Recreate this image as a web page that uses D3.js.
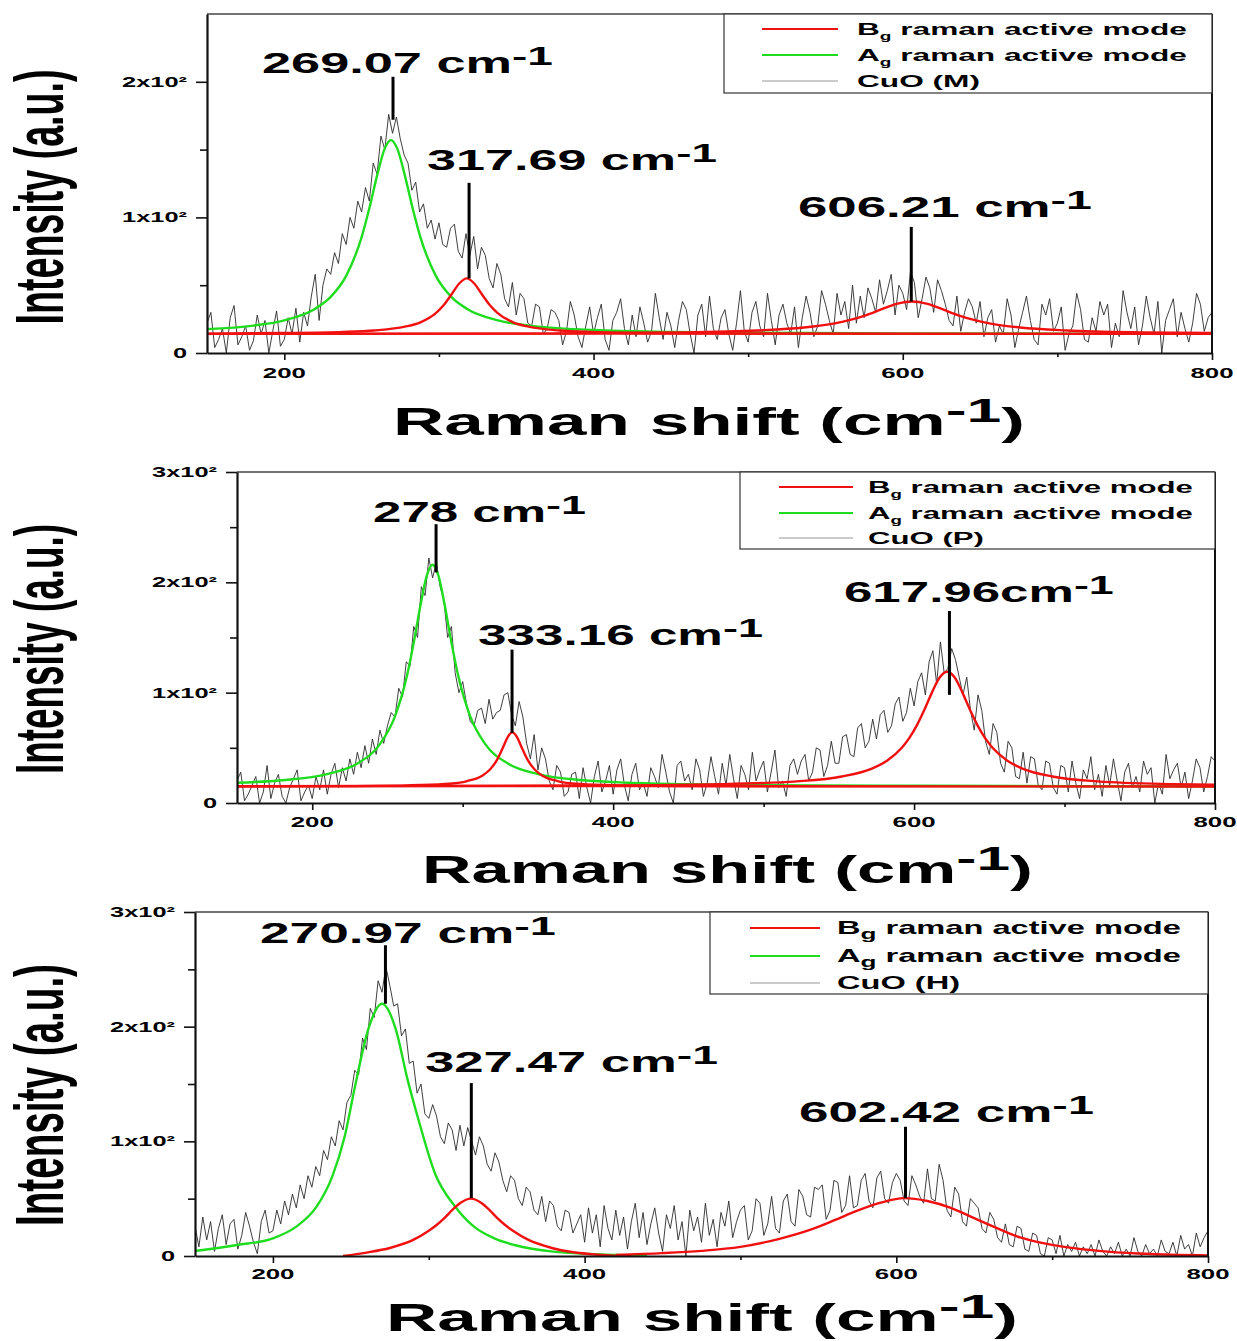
<!DOCTYPE html>
<html><head><meta charset="utf-8">
<script src="https://cdn.jsdelivr.net/npm/d3@7"></script>
<style>
html,body{margin:0;padding:0;background:#fff;}
svg{display:block;background:#fff;}
text{font-family:"Liberation Sans",Arial,Helvetica,sans-serif;font-weight:bold;fill:#000;}
</style></head><body>
<svg id="chart" width="1237" height="1341"></svg>
<script>
// ---------------- DATA ----------------
const X_START = 150, X_STEP = 2.5;           // sampling grid of the spectra (cm-1)
const xTickValues = [200, 400, 600, 800];
const xTickLabels = ["200", "400", "600", "800"];
const xMinorValues = [300, 500, 700];
const yTickValues3 = [0, 100, 200, 300];
const yTickLabels3 = ["0", "1x10²", "2x10²", "3x10²"];
const yMinor3 = [50, 150, 250];
const yTickValuesM = [0, 100, 200];
const yTickLabelsM = ["0", "1x10²", "2x10²"];
const yMinorM = [50, 150];
const legendModes = [
  { main: "B", sub: "g", rest: " raman active mode" },
  { main: "A", sub: "g", rest: " raman active mode" }
];
const sampleNames = ["CuO (M)", "CuO (P)", "CuO (H)"];

// measured spectra (intensity, a.u.)
const spectrumM = [
22,30,4,10,18,0,26,35,6,12,
20,2,9,28,14,24,0,16,31,5,
10,26,14,33,8,30,20,42,58,24,
50,62,58,74,66,88,80,100,92,112,
104,122,112,140,132,160,150,176,162,174,
158,146,140,120,126,104,110,92,98,84,
96,80,78,92,95,75,70,88,72,86,
62,78,72,55,48,66,58,40,34,52,
28,44,40,22,20,36,34,14,18,32,
30,24,6,16,38,28,12,4,20,34,
14,26,36,10,2,24,30,40,18,6,
28,12,34,22,8,16,44,26,10,30,
20,4,24,38,32,14,0,28,36,12,
42,18,10,26,32,14,2,22,46,16,
8,30,38,20,12,44,24,6,28,36,
22,14,34,4,26,42,30,12,20,46,
36,24,14,44,28,38,18,50,22,42,
26,48,40,30,54,36,46,58,28,50,
44,32,60,52,26,40,56,48,30,54,
46,36,24,20,42,16,30,40,34,22,
38,12,26,32,8,20,14,40,28,4,
18,30,42,24,10,6,36,28,40,16,
22,34,2,14,20,44,32,10,8,26,
16,38,28,36,4,22,12,46,30,18,
34,6,20,42,26,14,38,0,24,32,
40,12,30,18,8,22,44,36,16,26,
30];
const spectrumP = [
20,28,2,8,16,24,0,10,34,4,
18,26,6,0,14,22,30,2,10,16,
4,24,12,30,8,26,36,14,32,20,
40,26,46,32,52,36,58,44,66,54,
70,82,78,104,96,128,124,160,150,196,
188,222,204,218,196,184,150,160,118,100,
110,90,74,70,84,86,72,94,76,82,
84,98,100,80,70,92,78,54,40,62,
30,50,40,20,12,34,28,6,10,26,
28,4,32,14,0,24,38,10,20,34,
8,30,40,16,2,26,36,12,18,6,
32,24,14,44,28,10,0,34,38,20,
26,12,40,30,6,18,42,24,8,36,
16,44,22,4,34,26,12,46,20,30,
38,10,28,48,14,20,6,34,40,26,
38,44,20,28,50,48,24,34,56,36,
36,60,62,44,42,68,72,50,56,76,
58,80,84,64,70,90,96,74,82,104,
88,110,118,98,128,138,108,146,118,122,
140,130,114,98,114,84,66,98,84,56,
44,72,64,36,28,56,50,24,22,46,
18,42,40,16,12,38,36,14,8,34,
32,10,38,18,4,30,22,42,12,26,
6,34,16,40,20,2,28,36,14,24,
10,38,26,32,0,18,8,44,22,30,
36,14,28,4,20,40,32,10,24,42,
38];
const spectrumH = [
26,8,34,14,30,4,24,36,10,28,
32,6,18,38,26,12,2,30,40,20,
22,40,28,48,36,54,42,62,50,70,
60,78,70,92,84,104,96,118,110,134,
140,162,158,190,180,216,208,240,230,252,
236,218,220,192,198,168,170,142,150,124,
120,132,122,104,98,116,110,92,114,96,
112,100,88,104,96,80,74,90,82,66,
56,70,66,50,44,60,56,40,36,52,
30,48,44,26,22,40,38,20,28,36,
12,42,20,36,8,44,24,14,40,18,
34,6,30,46,16,38,10,28,42,20,
4,36,24,44,14,30,0,40,22,34,
12,46,18,32,8,38,26,48,16,30,
40,44,14,22,50,46,18,28,52,24,
20,48,54,30,26,58,52,36,34,60,
58,62,32,40,66,64,38,44,70,42,
44,66,72,48,42,68,74,50,46,64,
72,66,48,44,70,62,52,46,76,50,
48,80,66,40,34,60,54,30,26,50,
46,42,24,20,38,32,16,12,28,10,
8,26,24,6,4,20,18,2,0,16,
14,2,18,0,10,4,12,0,8,2,
10,0,14,4,0,8,2,12,0,6,
0,16,4,0,10,2,6,0,14,4,
2,12,0,18,6,10,0,20,8,16,
22];

// fitted curves [x, intensity]
const agM = [[150,17.6],[180,20.2],[200,24.1],[220,32.7],[230,41.4],[240,56.9],[250,85.5],[255,106.7],[260,130.8],[265,150.9],[269,157],[273,150.9],[278,130.8],[283,106.7],[288,85.5],[298,56.9],[308,41.4],[318,32.7],[338,24.1],[358,20.2],[400,17.0],[450,15.6],[500,15.0],[600,14.5],[700,14.3],[800,14.2]];
const bg1M = [[150,14.3],[198,14.7],[238,15.5],[258,16.6],[278,19.4],[288,22.6],[298,29.4],[303,35.2],[308,43.0],[313,51.1],[318,55],[323,51.1],[328,43.0],[333,35.2],[338,29.4],[348,22.6],[358,19.4],[378,16.6],[398,15.5],[438,14.7],[500,14.4],[800,14.1]];
const bg2M = [[150,14.1],[350,14.4],[456,15.2],[506,16.6],[536,18.8],[556,21.9],[566,24.4],[576,27.8],[586,32.1],[596,36.2],[606,38],[616,36.2],[626,32.1],[636,27.8],[646,24.4],[656,21.9],[676,18.8],[706,16.6],[756,15.2],[800,14.8]];
const baseM = [[150,14],[800,14]];

const agP = [[150,18.4],[180,20.6],[210,26.2],[230,35.8],[245,53.4],[255,78.5],[263,115.5],[268,149.2],[272,179.6],[276,205.4],[280,216],[284,205.4],[288,179.6],[292,149.2],[297,115.5],[305,78.5],[315,53.4],[330,35.8],[350,26.2],[380,20.6],[410,18.4],[450,17.0],[500,16.2],[600,15.6],[800,15.2]];
const bg1P = [[150,15.1],[213,15.3],[263,16.0],[288,17.2],[303,19.9],[313,24.8],[318,30.1],[323,39.5],[327,51],[330,60],[333,64],[336,60],[339,51],[343,39.5],[348,30.1],[353,24.8],[363,19.9],[378,17.2],[403,16.0],[453,15.3],[800,15.0]];
const bg2P = [[150,15.2],[372,15.8],[472,17.1],[522,19.6],[552,24.0],[572,31.2],[582,38.3],[592,50.3],[597,59.2],[602,70.8],[607,84.9],[612,100.5],[617,113.7],[622,119],[627,113.7],[632,100.5],[637,84.9],[642,70.8],[647,59.2],[652,50.3],[662,38.3],[672,31.2],[692,24.0],[722,19.6],[772,17.1],[800,16.5]];
const baseP = [[150,15],[800,15]];

const agH = [[150,4.4],[177,9.6],[200,15.4],[215,25.6],[228,43],[238,69],[246,104],[253,150],[261,197],[270,220],[279,197],[286,156],[294,116],[304,72],[317,43],[329,25.6],[342,15.4],[355,9.6],[380,3.8],[421,0.9],[440,0]];
const bg1H = [[245,0],[260,3],[275,7],[290,14],[300,22],[305,27],[310,33],[315,40],[320,46],[327,50],[334,46],[339,40],[344,33],[349,27],[354,22],[364,14],[379,7],[394,3],[410,1],[430,0]];
const bg2H = [[420,1],[450,2.5],[475,4.5],[500,8],[525,15],[545,23],[560,31],[575,39.5],[590,46.5],[605,50.5],[620,48],[635,42],[650,33],[665,24],[680,16],[695,11],[710,7.5],[730,4.5],[755,2.2],[780,1],[800,0.5]];
const baseH = [];

// peak annotations: label, label anchor (x, y in data units), marker line [x, top, bottom]
const peaksM = [
  { text: "269.07 cm", x: 185.6, y: 206.5, marker: [270.3, 203.7, 172] },
  { text: "317.69 cm", x: 292.3, y: 135,   marker: [319.5, 125.5, 55] },
  { text: "606.21 cm", x: 532.2, y: 100.3, marker: [605.5, 93, 38] }
];
const peaksP = [
  { text: "278 cm",    x: 240.4, y: 254.7, marker: [282.3, 252.7, 209] },
  { text: "333.16 cm", x: 310.2, y: 143.2, marker: [332.8, 139, 63.6] },
  { text: "617.96cm",  x: 553.4, y: 182.2, marker: [623.5, 174, 98] }
];
const peaksH = [
  { text: "270.97 cm", x: 191.7, y: 273,   marker: [272.2, 271, 220] },
  { text: "327.47 cm", x: 297.6, y: 160.5, marker: [327.3, 150.8, 50.5] },
  { text: "602.42 cm", x: 537.5, y: 116.9, marker: [605.9, 112.7, 50.5] }
];

// ---------------- LAYOUT ----------------
const layout = [
  { left:207, right:1212, top:14, bottom:353, yMax:250, yT:yTickValuesM, yL:yTickLabelsM, yMin:yMinorM,
    titleY:435, titleX:[393,1025], yTitleCenter:197, yTitleLen:255, xLabelY:378,
    legend:{ left:724, bottom:93, lineX:[762,838], textX:857, textW:330, rows:[29,55,81], size:17, sub:0.6 },
    peakW:[291,290,294],
    spectrum:spectrumM, ag:agM, bg:[bg1M,bg2M], base:baseM, peaks:peaksM, name:sampleNames[0] },
  { left:237, right:1215, top:472, bottom:803, yMax:300, yT:yTickValues3, yL:yTickLabels3, yMin:yMinor3,
    titleY:883, titleX:[422,1033], yTitleCenter:649, yTitleLen:250, xLabelY:827,
    legend:{ left:740, bottom:549, lineX:[779,853], textX:868, textW:325, rows:[487,513,538], size:17, sub:0.6 },
    peakW:[213,285,270],
    spectrum:spectrumP, ag:agP, bg:[bg1P,bg2P], base:baseP, peaks:peaksP, name:sampleNames[1] },
  { left:195, right:1208, top:912, bottom:1256, yMax:300, yT:yTickValues3, yL:yTickLabels3, yMin:yMinor3,
    titleY:1331, titleX:[386,1018], yTitleCenter:1095, yTitleLen:262, xLabelY:1279,
    legend:{ left:710, bottom:994, lineX:[750,820], textX:837, textW:344, rows:[928,956,983], size:18, sub:0.8 },
    peakW:[296,293,295],
    spectrum:spectrumH, ag:agH, bg:[bg1H,bg2H], base:baseH, peaks:peaksH, name:sampleNames[2] }
];

const RED = "#f01010", GREEN = "#1fdc1f";
const svg = d3.select("#chart");

function stretchedText(parent, x, y, parts, o) {
  const t = parent.append("text").attr("text-anchor", o.anchor || "start").style("font-size", o.size + "px");
  let cur = 0;
  parts.forEach(p => {
    const ts = t.append("tspan").text(p.t).style("font-size", (o.size * (p.scale || 1)) + "px");
    const target = p.shift || 0;
    if (target !== cur) { ts.attr("dy", target - cur); cur = target; }
  });
  let sx = o.sx || 1;
  if (o.width) sx = o.width / t.node().getBBox().width;
  t.attr("transform", `translate(${x},${y}) scale(${sx},1)`);
  return { node: t, sx };
}

layout.forEach((cfg, pi) => {
  const g = svg.append("g");
  const x = d3.scaleLinear().domain([150, 800]).range([cfg.left, cfg.right]);
  const y = d3.scaleLinear().domain([0, cfg.yMax]).range([cfg.bottom, cfg.top]);
  const clipId = "clip" + pi;
  svg.append("clipPath").attr("id", clipId).append("rect")
    .attr("x", cfg.left).attr("y", cfg.top).attr("width", cfg.right - cfg.left).attr("height", cfg.bottom - cfg.top);
  const plot = g.append("g").attr("clip-path", `url(#${clipId})`);

  // spectrum
  const pts = cfg.spectrum.map((v, i) => [X_START + i * X_STEP, v]);
  plot.append("path").datum(pts)
    .attr("d", d3.line().x(d => x(d[0])).y(d => y(d[1])))
    .attr("fill", "none").attr("stroke", "#2a2a2a").attr("stroke-width", 0.9).attr("stroke-linejoin", "round");

  const curve = d3.line().x(d => x(d[0])).y(d => y(d[1])).curve(d3.curveMonotoneX);
  if (cfg.base.length) plot.append("path").datum(cfg.base).attr("d", curve)
    .attr("fill", "none").attr("stroke", RED).attr("stroke-width", 1.6);
  plot.append("path").datum(cfg.ag).attr("d", curve)
    .attr("fill", "none").attr("stroke", GREEN).attr("stroke-width", 2.4);
  cfg.bg.forEach(b => plot.append("path").datum(b).attr("d", curve)
    .attr("fill", "none").attr("stroke", RED).attr("stroke-width", 2.4));

  // peak markers
  cfg.peaks.forEach(p => {
    plot.append("line").attr("x1", x(p.marker[0])).attr("x2", x(p.marker[0]))
      .attr("y1", y(p.marker[1])).attr("y2", y(p.marker[2]))
      .attr("stroke", "#000").attr("stroke-width", 3);
  });

  // frame (top/right)
  g.append("line").attr("x1", cfg.left).attr("x2", cfg.right).attr("y1", cfg.top).attr("y2", cfg.top)
    .attr("stroke", "#444").attr("stroke-width", 1.5);
  g.append("line").attr("x1", cfg.right).attr("x2", cfg.right).attr("y1", cfg.top).attr("y2", cfg.bottom)
    .attr("stroke", "#111").attr("stroke-width", 2);

  // axes
  g.append("g").attr("transform", `translate(0,${cfg.bottom})`)
    .call(d3.axisBottom(x).tickValues(xTickValues).tickSize(7).tickSizeOuter(0).tickFormat(""));
  g.append("g").attr("transform", `translate(0,${cfg.bottom})`)
    .call(d3.axisBottom(x).tickValues(xMinorValues).tickSize(4).tickSizeOuter(0).tickFormat(""))
    .select(".domain").remove();
  g.append("g").attr("transform", `translate(${cfg.left},0)`)
    .call(d3.axisLeft(y).tickValues(cfg.yT).tickSize(11).tickSizeOuter(0).tickFormat(""));
  g.append("g").attr("transform", `translate(${cfg.left},0)`)
    .call(d3.axisLeft(y).tickValues(cfg.yMin).tickSize(7).tickSizeOuter(0).tickFormat(""))
    .select(".domain").remove();
  g.selectAll(".domain").attr("stroke", "#111").attr("stroke-width", 2.2);
  g.selectAll(".tick line").attr("stroke", "#111").attr("stroke-width", 1.6);

  // tick labels
  xTickValues.forEach((v, i) => stretchedText(g, x(v), cfg.xLabelY, [{ t: xTickLabels[i] }], { size: 15, sx: 1.72, anchor: "middle" }));
  cfg.yT.forEach((v, i) => stretchedText(g, cfg.left - 20, y(v) + 5, [{ t: cfg.yL[i] }], { size: 14.5, sx: 1.75, anchor: "end" }));

  // peak labels
  cfg.peaks.forEach((p, i) => stretchedText(g, x(p.x), y(p.y),
    [{ t: p.text }, { t: "-1", scale: 0.88, shift: -8 }], { size: 29, width: cfg.peakW[i] }));

  // x title
  stretchedText(g, cfg.titleX[0], cfg.titleY,
    [{ t: "Raman shift (cm" }, { t: "-1", scale: 0.88, shift: -13 }, { t: ")", shift: 0 }],
    { size: 38, width: cfg.titleX[1] - cfg.titleX[0] });

  // y title
  const yt = g.append("text").attr("text-anchor", "middle").style("font-size", "38px").text("Intensity (a.u.)");
  const yw = yt.node().getBBox().width;
  yt.attr("transform", `translate(63,${cfg.yTitleCenter}) rotate(-90) scale(${cfg.yTitleLen / yw},1.8)`);

  // legend
  const lg = cfg.legend;
  g.append("rect").attr("x", lg.left).attr("y", cfg.top).attr("width", cfg.right - lg.left).attr("height", lg.bottom - cfg.top)
    .attr("fill", "#fff").attr("stroke", "#333").attr("stroke-width", 1.2);
  const colors = [RED, GREEN, "#b8b8b8"];
  lg.rows.forEach((ry, i) => {
    g.append("line").attr("x1", lg.lineX[0]).attr("x2", lg.lineX[1]).attr("y1", ry).attr("y2", ry)
      .attr("stroke", colors[i]).attr("stroke-width", i < 2 ? 2 : 1.5);
  });
  const subShift = 5;
  const r0 = stretchedText(g, lg.textX, lg.rows[0] + 6,
    [{ t: legendModes[0].main }, { t: legendModes[0].sub, scale: lg.sub, shift: subShift }, { t: legendModes[0].rest, shift: 0 }],
    { size: lg.size, width: lg.textW });
  stretchedText(g, lg.textX, lg.rows[1] + 6,
    [{ t: legendModes[1].main }, { t: legendModes[1].sub, scale: lg.sub, shift: subShift }, { t: legendModes[1].rest, shift: 0 }],
    { size: lg.size, sx: r0.sx });
  stretchedText(g, lg.textX, lg.rows[2] + 6, [{ t: cfg.name }], { size: lg.size, sx: r0.sx });
});
</script>
</body></html>
